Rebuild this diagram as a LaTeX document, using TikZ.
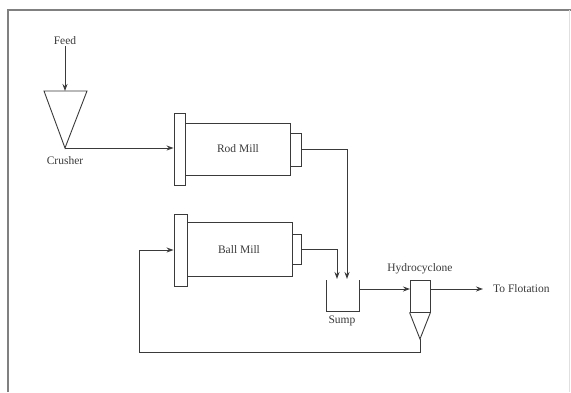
\documentclass[tikz,border=0pt]{standalone}
\usepackage{fontspec}
\setmainfont{Liberation Serif}
\usetikzlibrary{arrows.meta,calc}
\definecolor{ink}{HTML}{3A3A3A}
\definecolor{framec}{HTML}{808080}
\begin{document}
\begin{tikzpicture}[x=1pt,y=-1pt,
  every node/.style={font=\fontsize{11.5}{13}\selectfont, text=ink},
  box/.style={draw=ink, line width=0.9pt, inner sep=0pt, rectangle},
  conn/.style={draw=ink, line width=0.9pt},
  flow/.style={conn, -{Stealth[length=7pt,width=5pt]}},
  lbl/.style={inner sep=1pt}]
\useasboundingbox (0,0) rectangle (571,392);
% frame
\draw[framec, line width=2pt] (8,392) -- (8,10) -- (571,10);
\draw[black!12, line width=1pt] (569,10) -- (569,392);

% crusher
\coordinate (crtop) at (65,91);
\coordinate (crapex) at (65,148);
\draw[conn] (44,91) -- (87,91) -- (crapex) -- cycle;

% rod mill
\node[box, minimum width=11pt, minimum height=72pt] (rodplate) at (179.5,149) {};
\node[box, minimum width=105pt, minimum height=52pt] (rodbody) at (237.5,149) {};
\node[box, minimum width=11pt, minimum height=33pt] (rodcap) at (295.5,149.5) {};

% ball mill
\node[box, minimum width=13pt, minimum height=72pt] (ballplate) at (180.5,250) {};
\node[box, minimum width=105pt, minimum height=54pt] (ballbody) at (239.5,249) {};
\node[box, minimum width=9pt, minimum height=30pt] (ballcap) at (296.5,249) {};

% sump (open top)
\coordinate (sumpTL) at (326,280);
\coordinate (sumpTR) at (359,280);
\draw[conn] (sumpTL) -- (326,311) -- (359,311) -- (sumpTR);
\coordinate (sumpout) at (359,289);
\coordinate (inA) at (337,279);
\coordinate (inB) at (347,279);

% hydrocyclone
\node[box, minimum width=20pt, minimum height=32pt] (hc) at (420,296) {};
\coordinate (hcapex) at (420,339);
\draw[conn] (hc.south west) -- (hcapex) -- (hc.south east);
\coordinate (hcin) at (410,289);
\coordinate (hcout) at (430,289);
\coordinate (flotend) at (483,289);

% labels
\node[lbl] (feed) at (65,41) {Feed};
\node[lbl] (crusherlbl) at (65,161) {Crusher};
\node[lbl] (rodlbl) at (238,149) {Rod Mill};
\node[lbl] (balllbl) at (239,250) {Ball Mill};
\node[lbl] (sumplbl) at (342,321) {Sump};
\node[lbl] (hclbl) at (420,269) {Hydrocyclone};
\node[lbl, anchor=west] (flot) at (492,289) {To Flotation};

% connectors
\draw[flow] (feed.south) -- (crtop);
\draw[flow] (crapex) -- (crapex -| rodplate.west);
\draw[flow] (rodcap.east) -| (inB);
\draw[flow] (ballcap.east) -| (inA);
\draw[flow] (sumpout) -- (hcin);
\draw[flow] (hcout) -- (flotend);
\draw[flow] (hcapex) -- (420,352) -- (139,352) |- (ballplate.west);
\end{tikzpicture}
\end{document}
